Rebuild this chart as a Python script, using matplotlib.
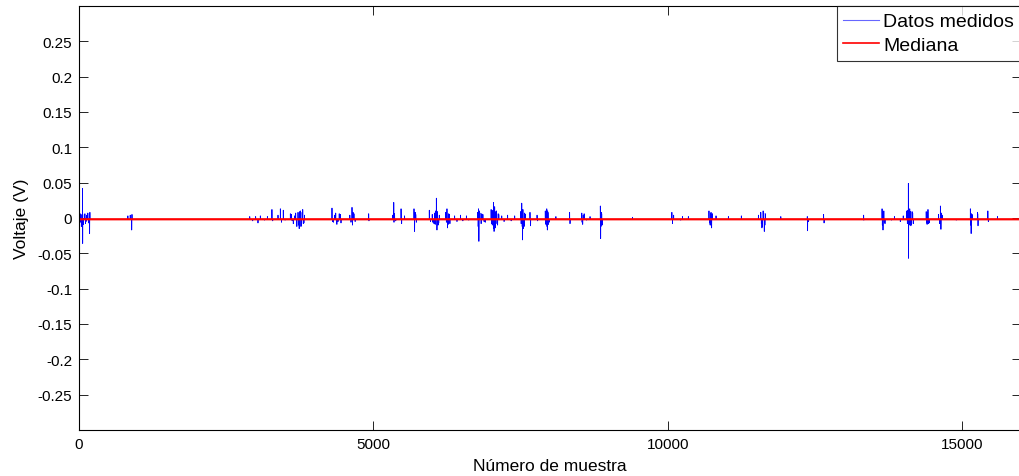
import numpy as np
import matplotlib
matplotlib.use("Agg")
import matplotlib.pyplot as plt

plt.rcParams['font.family'] = ['Liberation Sans', 'DejaVu Sans']

n_samples = 16000
median_value = -0.0018
baseline_value = -0.0022

# spike events: (sample index, voltage)
spike_samples = [
    20, 40, 60, 62, 90, 110, 130, 150, 180, 185,
    830, 870, 895, 900,
    2900, 2950, 3000, 3040, 3080, 3150, 3200,
    3277, 3290,
    3380, 3420, 3440, 3470, 3500,
    3590, 3620, 3660, 3700, 3720, 3740, 3760, 3780, 3800, 3810, 3830,
    4297, 4310, 4340, 4380, 4420, 4450,
    4600, 4637, 4645, 4670, 4690,
    4800, 4920, 4925,
    5330, 5346, 5350, 5380,
    5470, 5480, 5530,
    5690, 5700, 5710, 5730,
    5950, 5970, 6000, 6030, 6060, 6070, 6080, 6100, 6120,
    6230, 6250, 6260, 6280, 6300,
    6380, 6420, 6480, 6520, 6580, 6620,
    6770, 6785, 6792, 6800, 6830, 6860, 6900,
    7000, 7020, 7040, 7050, 7060, 7070, 7090, 7110, 7130,
    7180, 7220, 7280, 7340, 7400,
    7500, 7520, 7534, 7540, 7560, 7580,
    7660, 7670, 7780, 7790,
    7920, 7930, 7945, 7955, 7965, 7985,
    8100, 8333, 8340,
    8540, 8555, 8580, 8620, 8680,
    8855, 8860, 8870, 8885,
    8950, 9400,
    10070, 10080, 10100,
    10220, 10250, 10350,
    10700, 10720, 10735, 10745, 10760,
    10820, 11030, 11250,
    11540, 11580, 11600, 11620, 11640, 11660,
    11920,
    12370, 12375, 12390,
    12647, 12655,
    13327, 13330,
    13640, 13656, 13670, 13690,
    13800, 13850, 13950, 14000,
    14060, 14087, 14090, 14110, 14130, 14150, 14170,
    14390, 14405, 14420, 14440,
    14600, 14631, 14640, 14660,
    14900,
    15140, 15153, 15170,
    15260, 15270,
    15437, 15445,
    15600,
]
spike_values = [
    0.006, -0.012, 0.042, -0.036, 0.005, -0.008, 0.004, 0.007, -0.022, 0.008,
    0.003, 0.004, -0.017, 0.005,
    0.002, -0.004, 0.002, -0.007, 0.003, -0.003, 0.002,
    0.012, -0.004,
    0.004, 0.013, -0.006, 0.011, -0.003,
    0.006, -0.004, 0.003, -0.012, 0.008, -0.015, 0.010, -0.011, 0.012, -0.008, 0.004,
    0.014, -0.005, 0.004, -0.009, 0.006, -0.007,
    0.004, 0.015, -0.010, 0.006, -0.005,
    -0.002, 0.006, -0.004,
    0.004, 0.022, -0.006, -0.004,
    0.013, -0.008, 0.003,
    0.013, -0.019, 0.008, -0.006,
    0.011, -0.005, 0.005, -0.008, 0.010, 0.028, -0.017, -0.010, 0.004,
    0.008, 0.013, -0.014, 0.006, -0.008,
    0.003, -0.005, 0.004, -0.004, 0.003, -0.003,
    0.008, 0.013, -0.033, 0.010, -0.008, 0.005, -0.006,
    0.012, -0.010, 0.022, -0.019, 0.016, -0.014, 0.010, -0.010, 0.005,
    0.003, -0.005, 0.004, -0.004, 0.003,
    0.009, 0.021, -0.031, 0.012, -0.012, 0.005,
    0.008, -0.011, 0.004, -0.004,
    0.010, -0.009, 0.013, -0.017, 0.008, -0.006,
    0.002, 0.008, -0.008,
    0.007, -0.009, 0.006, -0.003, 0.002,
    0.017, -0.029, 0.008, -0.010,
    -0.002, 0.001,
    0.008, -0.008, 0.004,
    -0.003, 0.002, 0.002,
    0.010, -0.010, 0.008, -0.014, 0.006,
    0.003, 0.002, 0.003,
    0.004, 0.008, -0.014, 0.010, -0.019, 0.006,
    0.002,
    0.002, -0.018, -0.005,
    0.005, -0.007,
    0.004, -0.003,
    0.013, -0.017, 0.010, -0.008,
    -0.003, 0.002, -0.005, 0.003,
    0.010, 0.049, -0.057, 0.013, -0.011, 0.009, -0.008,
    0.009, -0.009, 0.012, -0.007,
    0.005, 0.017, -0.016, 0.004,
    -0.003,
    0.013, -0.022, 0.005,
    0.008, -0.011,
    0.010, -0.005,
    0.002,
]

# smaller fluctuations inside the dense bursts
ripple_samples = [
    30, 50, 75, 100, 120, 140, 165,
    3610, 3640, 3680, 3730, 3750, 3770, 3790, 3820,
    4320, 4360, 4400, 4440, 4620, 4655,
    5360, 5720, 6010, 6040, 6050, 6090, 6110, 6240, 6270, 6290,
    6780, 6810, 6840, 6880,
    7010, 7030, 7045, 7055, 7065, 7080, 7100, 7120,
    7510, 7528, 7545, 7570, 7925, 7940, 7950, 7960, 7975,
    8545, 8565, 8865, 8878,
    10710, 10728, 10740, 10752, 11590, 11610, 11630, 11650,
    13645, 13662, 13680, 14070, 14080, 14100, 14120, 14140, 14160,
    14395, 14410, 14430, 14620, 14650, 15145, 15160, 15265,
]
ripple_values = [
    -0.006, 0.005, -0.009, 0.006, -0.005, 0.004, -0.007,
    0.005, -0.008, 0.007, -0.010, 0.009, -0.012, 0.008, -0.007,
    -0.006, 0.007, -0.005, 0.005, -0.006, 0.008,
    0.006, 0.005, -0.006, 0.007, -0.009, 0.009, -0.007, -0.006, -0.009, 0.005,
    -0.012, 0.007, 0.006, -0.005,
    -0.008, 0.011, -0.015, 0.013, -0.012, 0.009, -0.008, 0.006,
    -0.008, -0.012, -0.015, 0.007, -0.007, 0.008, -0.012, 0.010, -0.009,
    -0.006, 0.004, -0.012, 0.006,
    -0.007, 0.006, -0.011, 0.005, -0.008, -0.012, 0.007, -0.010,
    -0.010, 0.009, -0.006, -0.008, 0.011, -0.010, 0.009, -0.009, 0.007,
    -0.007, 0.007, -0.008, -0.008, 0.007, -0.010, 0.006, 0.006,
]

sample_index = np.arange(n_samples)
measured = np.full(n_samples, baseline_value)
measured[np.array(ripple_samples)] = np.array(ripple_values)
measured[np.array(spike_samples)] = np.array(spike_values)
median_line = np.full(n_samples, median_value)

W, H = 1019, 477
fig = plt.figure(figsize=(W / 100, H / 100), dpi=100)
ax = fig.add_axes([79 / W, (H - 431) / H, (1021 - 79) / W, (431 - 7) / H])

ax.plot(sample_index, measured, color=(0, 0, 1), linewidth=0.6, label='Datos medidos')
ax.plot(sample_index, median_line, color=(1, 0, 0), linewidth=1.6, label='Mediana')

ax.set_xlim(0, 16000)
ax.set_ylim(-0.3, 0.3)
ax.set_xticks([0, 5000, 10000, 15000])
ax.set_xticklabels(['0', '5000', '10000', '15000'])
yt = [-0.25, -0.2, -0.15, -0.1, -0.05, 0, 0.05, 0.1, 0.15, 0.2, 0.25]
ax.set_yticks(yt)
ax.set_yticklabels(['-0.25', '-0.2', '-0.15', '-0.1', '-0.05', '0', '0.05', '0.1', '0.15', '0.2', '0.25'])
ax.tick_params(direction='in', top=True, right=True, length=6.5, width=0.6, labelsize=11, pad=5)
for s in ax.spines.values():
    s.set_linewidth(0.8)

ax.set_xlabel('Número de muestra', fontsize=12.5, labelpad=5)
ax.set_ylabel('Voltaje (V)', fontsize=12.5, labelpad=6)

leg = ax.legend(loc='upper right', fontsize=14, fancybox=False, frameon=True,
                edgecolor='black', borderaxespad=0, handlelength=1.85,
                handletextpad=0.2, borderpad=0.35, labelspacing=0.3)
leg.get_frame().set_linewidth(0.8)
leg.get_lines()[0].set_linewidth(0.8)
leg.get_lines()[0].set_alpha(0.6)
leg.get_lines()[1].set_linewidth(1.2)

fig.savefig('out.png', dpi=100)
